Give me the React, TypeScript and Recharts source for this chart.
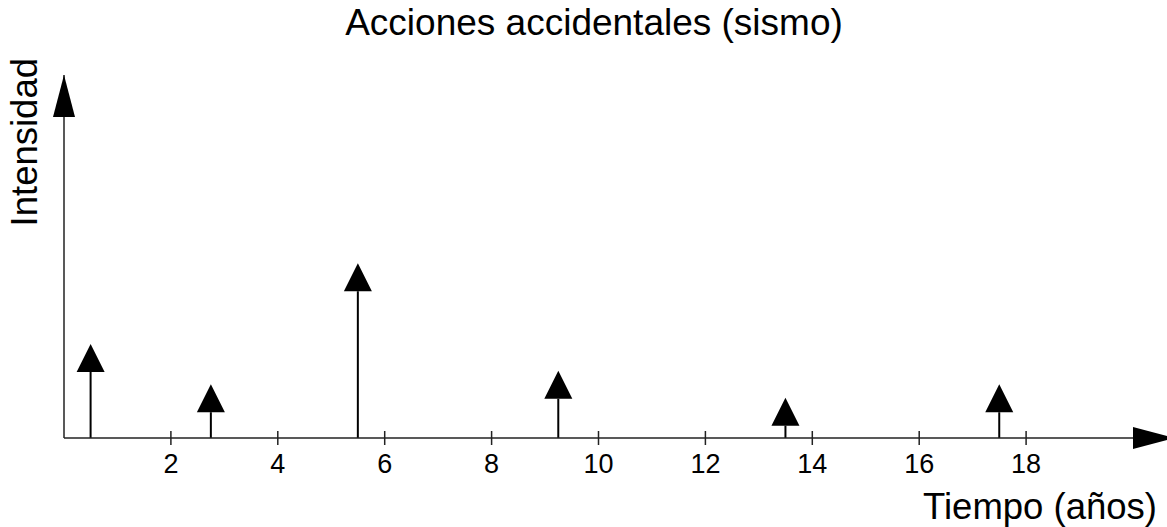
import { ComposedChart, Bar, XAxis, YAxis, ReferenceDot, Label } from 'recharts'

const TIEMPO = [0.5, 2.75, 5.5, 9.25, 13.5, 17.5]
const INTENSIDAD = [7, 4, 13, 5, 3, 4]
const X_TICKS = [2, 4, 6, 8, 10, 12, 14, 16, 18]
const X_MAX = 20
const Y_MAX = 27

const data = TIEMPO.map((t, i) => ({ t, v: INTENSIDAD[i] }))

const FONT = '"Liberation Sans", Arial, Helvetica, sans-serif'
const AXIS = '#222'

// arrow: stem from the baseline, filled head on top
const Arrow = (props: any) => {
  const { x, y, width, height } = props
  if (x == null || height == null) return null
  const cx = x + width / 2
  const head = 28
  return (
    <g>
      <line x1={cx} x2={cx} y1={y + height} y2={y + head} stroke="#000" strokeWidth={2} />
      <polygon points={`${cx},${y} ${cx - 14},${y + head} ${cx + 14},${y + head}`} fill="#000" />
    </g>
  )
}

const Tick = (props: any) => {
  const { x, y, payload } = props
  return (
    <g>
      <line x1={x} x2={x} y1={y - 7} y2={y + 7} stroke={AXIS} strokeWidth={1.5} />
      <text x={x} y={y + 35} textAnchor="middle" fontSize={27} fontFamily={FONT} fill="#000">
        {payload.value}
      </text>
    </g>
  )
}

const XTitle = (props: any) => {
  const vb = props.viewBox || { x: 64, y: 438, width: 1069, height: 89 }
  return (
    <text x={vb.x + vb.width + 24} y={vb.y + 81} textAnchor="end" fontSize={36.5} fontFamily={FONT} fill="#000">
      Tiempo (años)
    </text>
  )
}

const YTitle = (props: any) => {
  const vb = props.viewBox || { x: 0, y: 75, width: 64, height: 363 }
  const tx = vb.x + 37
  const ty = vb.y - 17
  return (
    <text x={tx} y={ty} transform={`rotate(-90 ${tx} ${ty})`} textAnchor="end" fontSize={36.5} fontFamily={FONT} fill="#000">
      Intensidad
    </text>
  )
}

export default function App() {
  return (
    <div style={{ position: 'absolute', left: 0, top: 0, width: 1167, height: 527, background: '#fff' }}>
      <div
        style={{
          position: 'absolute',
          top: 2,
          left: 0,
          width: 1167,
          paddingLeft: 21,
          boxSizing: 'border-box',
          textAlign: 'center',
          fontFamily: FONT,
          fontSize: 37,
          lineHeight: '42px',
          color: '#000',
        }}
      >
        Acciones accidentales (sismo)
      </div>
      <ComposedChart width={1167} height={527} data={data} margin={{ top: 75, right: 34, bottom: 0, left: 0 }}>
        <XAxis
          dataKey="t"
          type="number"
          domain={[0, X_MAX]}
          ticks={X_TICKS}
          interval={0}
          height={89}
          tickSize={0}
          tickMargin={0}
          tickLine={false}
          tick={<Tick />}
          axisLine={{ stroke: AXIS, strokeWidth: 1.5 }}
        >
          <Label content={<XTitle />} />
        </XAxis>
        <YAxis
          type="number"
          domain={[0, Y_MAX]}
          width={64}
          tick={false}
          tickLine={false}
          axisLine={{ stroke: AXIS, strokeWidth: 1.5 }}
        >
          <Label content={<YTitle />} />
        </YAxis>
        <Bar dataKey="v" barSize={28} shape={<Arrow />} isAnimationActive={false} />
        <ReferenceDot
          x={0}
          y={Y_MAX}
          r={0}
          ifOverflow="visible"
          shape={(p: any) => (
            <polygon points={`${p.cx},${p.cy} ${p.cx - 11},${p.cy + 42} ${p.cx + 11},${p.cy + 42}`} fill="#000" />
          )}
        />
        <ReferenceDot
          x={X_MAX}
          y={0}
          r={0}
          ifOverflow="visible"
          shape={(p: any) => (
            <polygon points={`${p.cx + 42},${p.cy} ${p.cx},${p.cy - 11} ${p.cx},${p.cy + 11}`} fill="#000" />
          )}
        />
      </ComposedChart>
    </div>
  )
}
